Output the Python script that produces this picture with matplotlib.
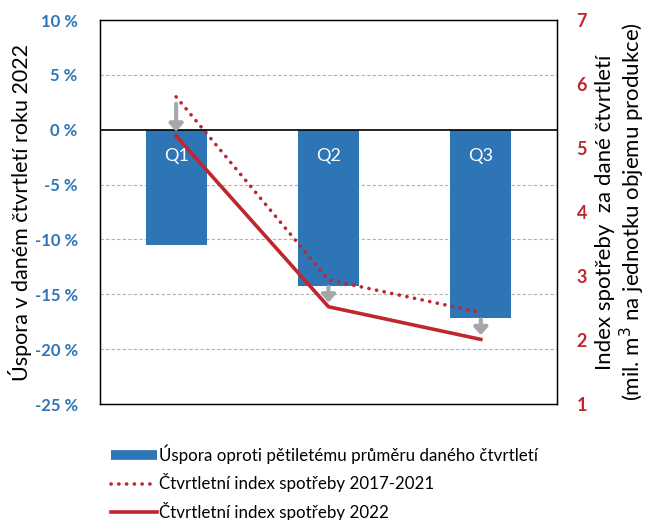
import matplotlib.pyplot as plt
from matplotlib.lines import Line2D
import numpy as np

plt.rcParams['font.family'] = ['Lato', 'DejaVu Sans']

quarters = ['Q1', 'Q2', 'Q3']
uspora = [-10.5, -14.25, -17.15]          # % savings vs 5-year average
index_2017_2021 = [5.80, 2.94, 2.43]      # consumption index 2017-2021
index_2022 = [5.19, 2.52, 2.01]           # consumption index 2022
left_ticks = [10, 5, 0, -5, -10, -15, -20, -25]
right_ticks = [1, 2, 3, 4, 5, 6, 7]

blue = '#2e75b6'
red = '#c0272d'
grey = '#a5a8ab'

fig = plt.figure(figsize=(6.53, 5.2), dpi=100)
ax = fig.add_axes([0.153, 0.223, 0.700, 0.7385])
x = np.arange(len(quarters))

ax.bar(x, uspora, width=0.4, color=blue, zorder=2)
ax.set_xlim(-0.5, 2.5)
ax.set_ylim(-25, 10)
ax.set_yticks(left_ticks)
ax.set_yticklabels([f'{t} %' for t in left_ticks], color=blue,
                   fontweight='bold', fontsize=12)
ax.set_xticks([])
ax.tick_params(axis='y', length=0, pad=16)
for t in left_ticks:
    if t not in (0, 10, -25):
        ax.axhline(t, color='#b0b0b0', lw=0.8, ls=(0, (3, 2)), zorder=1)
ax.axhline(0, color='black', lw=1.2, zorder=3)
for s in ax.spines.values():
    s.set_color('black')
    s.set_linewidth(1.0)
for i, q in enumerate(quarters):
    ax.text(i, -2.4, q, color='white', ha='center', va='center',
            fontsize=13, zorder=4)
ax.set_ylabel('Úspora v daném čtvrtletí roku 2022', fontsize=15.5, labelpad=2)

ax2 = ax.twinx()
ax2.set_ylim(1, 7)
ax2.set_yticks(right_ticks)
ax2.set_yticklabels([str(t) for t in right_ticks], color=red,
                    fontweight='bold', fontsize=13)
ax2.tick_params(axis='y', length=0, pad=14)
ax2.plot(x, index_2017_2021, color=red, lw=2.6, ls=(0, (0.05, 2.1)),
         dash_capstyle='round', zorder=5)
ax2.plot(x, index_2022, color=red, lw=2.6, zorder=5)
for i in range(len(quarters)):
    ax2.annotate('', xy=(x[i], index_2022[i]), xytext=(x[i], index_2017_2021[i]),
                 arrowprops=dict(arrowstyle='-|>,head_width=0.4,head_length=0.45',
                                 lw=3, color=grey, shrinkA=5, shrinkB=3),
                 zorder=6)
ax2.set_ylabel('Index spotřeby  za dané čtvrtletí\n(mil. m$^3$ na jednotku objemu produkce)',
               fontsize=16, labelpad=6, linespacing=1.1)
for s in ax2.spines.values():
    s.set_color('black')

handles = [
    Line2D([], [], color=blue, lw=7, solid_capstyle='butt'),
    Line2D([], [], color=red, lw=2.6, ls=(0, (0.05, 2.1)), dash_capstyle='round'),
    Line2D([], [], color=red, lw=2.6),
]
labels = ['Úspora oproti pětiletému průměru daného čtvrtletí',
          'Čtvrtletní index spotřeby 2017-2021',
          'Čtvrtletní index spotřeby 2022']
fig.legend(handles, labels, loc='upper left', bbox_to_anchor=(0.16, 0.158),
           frameon=False, fontsize=12.2, handlelength=2.7, handletextpad=0.1,
           labelspacing=0.55, borderaxespad=0)

fig.savefig('out.png', dpi=100)
